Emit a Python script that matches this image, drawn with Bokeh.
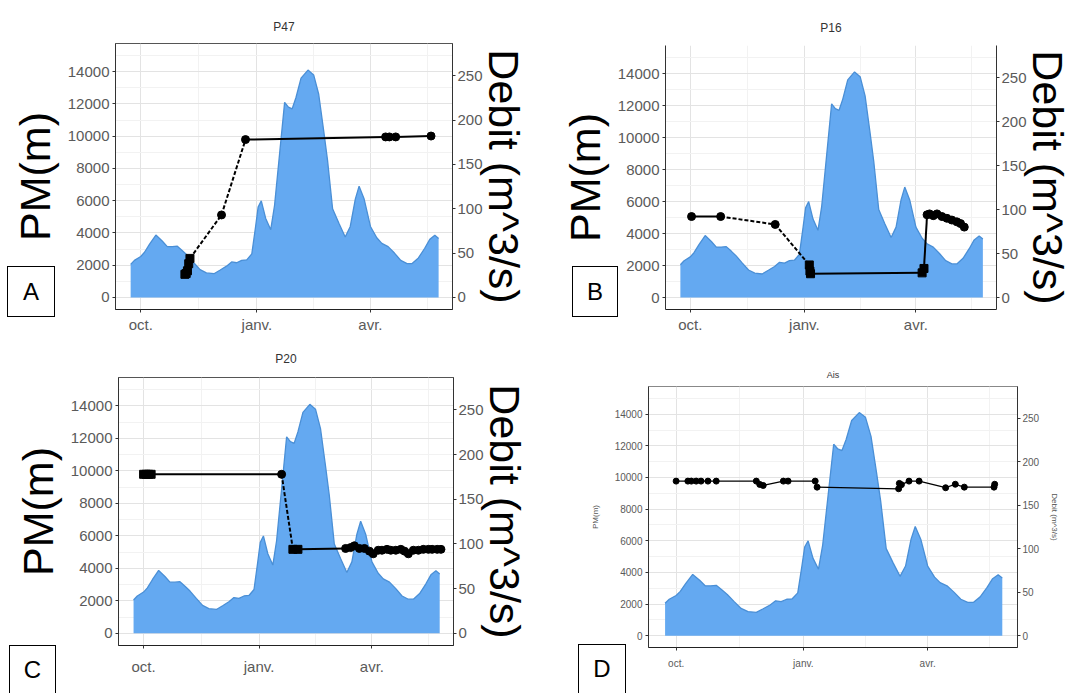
from bokeh.plotting import figure
from bokeh.models import Range1d, LinearAxis, FixedTicker, ColumnDataSource, GridBox, Div, Column
from bokeh.embed import file_html
from bokeh.resources import INLINE

# x = days since 1 October
month_ticks = [0, 92, 182]
month_labels = ["oct.", "janv.", "avr."]
month_minor = [46, 137, 227]

# PM(m) area (same in every panel)
pm_day = [-8, -5, 0, 3, 7, 12, 17, 21, 25, 29, 33, 37, 42, 47, 52, 58, 63, 68, 72, 76, 80, 84, 88, 91, 93, 95.5,
          99, 103, 106, 110, 114, 117, 120, 123, 127, 132.5, 137, 141, 145, 148, 152, 157, 162, 166, 170, 173,
          177, 182, 187, 191, 196, 201, 206, 211, 215, 220, 225, 229, 233, 236]
pm_val = [2050, 2300, 2540, 2800, 3300, 3870, 3500, 3150, 3150, 3180, 2900, 2600, 2150, 1720, 1520, 1470, 1700,
          1940, 2200, 2150, 2300, 2330, 2700, 4400, 5600, 5990, 4900, 4200, 5700, 8900, 12100, 11800, 11700,
          12400, 13600, 14100, 13800, 12600, 10300, 8500, 5500, 4600, 3750, 4400, 6100, 6900, 6100, 4400,
          3700, 3350, 3150, 2750, 2300, 2100, 2100, 2450, 3050, 3600, 3850, 3650]

# Debit (m^3/s) per station
a_day = [35, 36, 37, 38, 39, 64, 83, 194, 197, 202, 230]
a_q = [26, 27, 30, 38, 44, 93, 178, 181, 181, 181, 182]

b_day = [1, 24.5, 68.5, 96, 96.5, 97, 187, 188.5, 191, 193, 196, 199, 203, 207, 211, 215, 218, 221]
b_q = [92, 92, 83, 37, 30, 27, 28, 33, 94, 95, 93, 95, 92, 90, 88, 86, 84, 80]

c_day = [0, 2, 4, 6, 110, 119, 123, 161, 165, 168, 172, 176, 180, 183, 187, 190, 194, 197, 201, 205, 208,
         211, 215, 219, 223, 227, 230, 234, 237]
c_q = [178, 178, 178, 178, 178, 94, 94, 95, 96, 98, 95, 95, 92, 89, 93, 93, 94, 93, 93, 94, 92, 89, 93, 93,
       94, 94, 94, 94, 94]

d_day = [0, 8.5, 11, 14.5, 18, 23, 29, 58, 60.5, 63, 77.6, 81, 100.6, 102, 161, 161.5, 163, 168.5, 175.8,
         195, 202, 208.5, 230, 230.5]
d_q = [177.6, 177.6, 177.6, 177.6, 177.6, 177.6, 177.6, 177.6, 173.8, 172.6, 177.6, 177.6, 177.6, 170.7,
       168.8, 175, 173.5, 177.6, 177.6, 170, 174, 170.7, 170.7, 174]

titles = ["P47", "P16", "P20", "Ais"]
letters = ["A", "B", "C", "D"]

FACTOR = 55.0
PM_LO, PM_HI = -750, 15750
FONT = "Liberation Sans"

styles = [
    dict(w=540, h=335, l=115, r=88, t=43, b=22, big=True, dashed=[4, 5], squares=[0, 1, 2, 3, 4],
         outline="#555555", title_standoff=20, xstand=2, box=(7, 266, 48, 51)),
    dict(w=534, h=335, l=125, r=72, t=45, b=25, big=True, dashed=[1, 2], squares=[3, 4, 5, 6, 7],
         outline=None, title_standoff=21, xstand=2, box=(32, 266, 46, 51)),
    dict(w=540, h=358, l=118, r=87, t=42, b=48, big=True, dashed=[4], squares=[0, 1, 2, 3, 5, 6],
         outline="#555555", title_standoff=24, xstand=8, box=(9, 310, 47, 50)),
    dict(w=534, h=358, l=108, r=57, t=51, b=46, big=False, dashed=[], squares=[],
         outline="#888888", title_standoff=14, xstand=6, box=(38, 309, 48, 50)),
]


def make_panel(title, days, q, st):
    p = figure(width=st["w"], height=st["h"], output_backend="svg", toolbar_location=None,
               x_range=Range1d(-20, 247), y_range=Range1d(PM_LO, PM_HI),
               min_border_left=st["l"], min_border_right=st["r"],
               min_border_top=st["t"], min_border_bottom=st["b"])
    p.background_fill_color = "white"
    p.border_fill_color = "white"
    p.outline_line_color = st["outline"]
    p.extra_y_ranges = {"q": Range1d(PM_LO / FACTOR, PM_HI / FACTOR)}

    big = st["big"]
    p.title.text = title
    p.title.align = "center"
    p.title.text_font = FONT
    p.title.text_font_style = "normal"
    p.title.text_font_size = "12px" if big else "9px"
    p.title.text_color = "#333333"
    p.title.standoff = st["title_standoff"]

    # area
    p.varea(x=pm_day, y1=[0] * len(pm_day), y2=pm_val, fill_color="#64a9f1")
    p.line(x=pm_day, y=pm_val, line_color="#4a8fd6", line_width=1.3)

    # debit line segments
    solid = dict(x0=[], y0=[], x1=[], y1=[])
    dash = dict(x0=[], y0=[], x1=[], y1=[])
    for i in range(len(days) - 1):
        tgt = dash if i in st["dashed"] else solid
        tgt["x0"].append(days[i]); tgt["y0"].append(q[i])
        tgt["x1"].append(days[i + 1]); tgt["y1"].append(q[i + 1])
    lw = 2 if big else 1.3
    p.segment(x0="x0", y0="y0", x1="x1", y1="y1", source=ColumnDataSource(solid), line_color="black",
              line_width=lw, y_range_name="q")
    p.segment(x0="x0", y0="y0", x1="x1", y1="y1", source=ColumnDataSource(dash), line_color="black",
              line_width=lw, line_dash="4 2", y_range_name="q")
    sq_x = [days[i] for i in st["squares"]]
    sq_y = [q[i] for i in st["squares"]]
    ci_x = [days[i] for i in range(len(days)) if i not in st["squares"]]
    ci_y = [q[i] for i in range(len(days)) if i not in st["squares"]]
    msz = 8 if big else 6
    p.scatter(sq_x, sq_y, marker="square", size=msz, color="black", y_range_name="q")
    p.scatter(ci_x, ci_y, marker="circle", size=msz, color="black", y_range_name="q")

    # axes
    tick_fs = "15px" if big else "10px"
    lab_fs = "43px" if big else "8px"
    p.xaxis.ticker = FixedTicker(ticks=month_ticks, minor_ticks=month_minor)
    p.xaxis.major_label_overrides = dict(zip(month_ticks, month_labels))
    p.yaxis.ticker = FixedTicker(ticks=list(range(0, 14001, 2000)), minor_ticks=list(range(1000, 15001, 2000)))
    p.yaxis.axis_label = "PM(m)"
    ax2 = LinearAxis(y_range_name="q", ticker=FixedTicker(ticks=[0, 50, 100, 150, 200, 250]),
                     axis_label="Debit (m^3/s)")
    p.add_layout(ax2, "right")
    for ax in p.axis:
        ax.major_label_text_font = FONT
        ax.major_label_text_font_size = tick_fs
        ax.major_label_text_color = "#5a5a5a"
        ax.axis_label_text_font = FONT
        ax.axis_label_text_font_size = lab_fs
        ax.axis_label_text_font_style = "normal"
        ax.axis_label_text_color = "black" if big else "#555555"
        ax.minor_tick_line_color = None
        ax.major_tick_in = 0
        ax.major_tick_out = 3
        ax.major_tick_line_color = "#333333"
        ax.axis_line_color = "#333333"
        ax.major_label_standoff = 2
    p.xaxis.major_label_standoff = st["xstand"]
    p.yaxis[0].axis_label_standoff = 6 if big else 12
    ax2.axis_label_standoff = -6 if big else 8
    p.xaxis.axis_line_color = "#222222"

    p.xgrid.grid_line_color = "#e3e3e3"
    p.ygrid.grid_line_color = "#e3e3e3"
    p.xgrid.minor_grid_line_color = "#f2f2f2"
    p.ygrid.minor_grid_line_color = "#f2f2f2"
    return p


def letter_box(letter, st):
    x, y, w, h = st["box"]
    html = ('<div style="box-sizing:border-box;width:%dpx;height:%dpx;border:1px solid #000;'
            'background:#fff;font-family:\'Liberation Sans\',sans-serif;font-size:24px;'
            'line-height:%dpx;text-align:center;color:#000;">%s</div>') % (w, h, h - 2, letter)
    return Div(text=html, width=w, height=h, margin=(y, 0, 0, x),
               styles={"position": "relative", "z-index": "10"})


panels = []
boxes = []
for title, letter, days, q, st in zip(titles, letters, [a_day, b_day, c_day, d_day],
                                      [a_q, b_q, c_q, d_q], styles):
    # wrap every figure on its own so the grid does not align the frames of different panels
    panels.append(Column(children=[make_panel(title, days, q, st)], width=st["w"], height=st["h"]))
    boxes.append(letter_box(letter, st))

cells = [(0, 0), (0, 1), (1, 0), (1, 1)]
children = [(pn, r, c) for pn, (r, c) in zip(panels, cells)] + [(bx, r, c) for bx, (r, c) in zip(boxes, cells)]
layout = GridBox(children=children, spacing=0)
open("out.html", "w").write(file_html(layout, INLINE))
